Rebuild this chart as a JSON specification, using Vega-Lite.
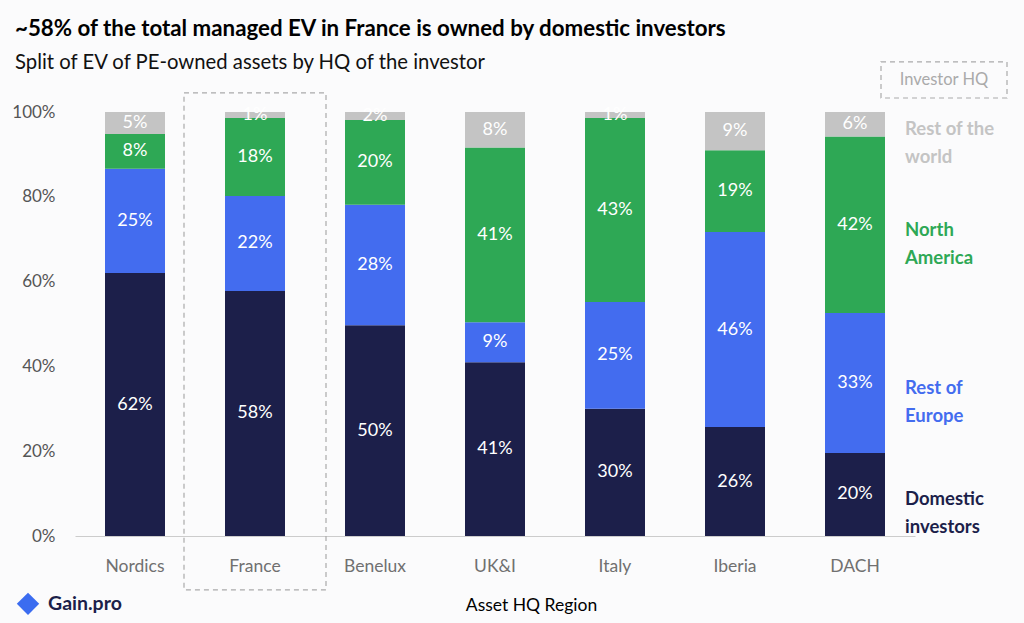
{
  "$schema": "https://vega.github.io/schema/vega-lite/v6.json",
  "autosize": "none",
  "width": 840,
  "height": 424,
  "padding": {"left": 75, "top": 112, "right": 109, "bottom": 87},
  "background": "#fbfbfc",
  "config": {
    "font": "Lato",
    "view": {"stroke": null},
    "axis": {"grid": false, "ticks": false}
  },
  "title": {
    "text": "~58% of the total managed EV in France is owned by domestic investors",
    "subtitle": "Split of EV of PE-owned assets by HQ of the investor",
    "anchor": "start",
    "frame": "group",
    "dx": -60,
    "offset": -12,
    "fontSize": 22.3,
    "fontWeight": "bold",
    "color": "#000000",
    "subtitleFontSize": 20.3,
    "subtitleColor": "#111111",
    "subtitlePadding": 13
  },
  "data": {
    "values": [
      {"region": "Nordics", "investor": "Domestic\ninvestors", "stack": 1, "share": 0.620},
      {"region": "Nordics", "investor": "Rest of\nEurope", "stack": 2, "share": 0.246},
      {"region": "Nordics", "investor": "North\nAmerica", "stack": 3, "share": 0.082},
      {"region": "Nordics", "investor": "Rest of the\nworld", "stack": 4, "share": 0.052},
      {"region": "France", "investor": "Domestic\ninvestors", "stack": 1, "share": 0.578},
      {"region": "France", "investor": "Rest of\nEurope", "stack": 2, "share": 0.224},
      {"region": "France", "investor": "North\nAmerica", "stack": 3, "share": 0.184},
      {"region": "France", "investor": "Rest of the\nworld", "stack": 4, "share": 0.014},
      {"region": "Benelux", "investor": "Domestic\ninvestors", "stack": 1, "share": 0.497},
      {"region": "Benelux", "investor": "Rest of\nEurope", "stack": 2, "share": 0.284},
      {"region": "Benelux", "investor": "North\nAmerica", "stack": 3, "share": 0.200},
      {"region": "Benelux", "investor": "Rest of the\nworld", "stack": 4, "share": 0.019},
      {"region": "UK&I", "investor": "Domestic\ninvestors", "stack": 1, "share": 0.410},
      {"region": "UK&I", "investor": "Rest of\nEurope", "stack": 2, "share": 0.094},
      {"region": "UK&I", "investor": "North\nAmerica", "stack": 3, "share": 0.412},
      {"region": "UK&I", "investor": "Rest of the\nworld", "stack": 4, "share": 0.084},
      {"region": "Italy", "investor": "Domestic\ninvestors", "stack": 1, "share": 0.300},
      {"region": "Italy", "investor": "Rest of\nEurope", "stack": 2, "share": 0.252},
      {"region": "Italy", "investor": "North\nAmerica", "stack": 3, "share": 0.434},
      {"region": "Italy", "investor": "Rest of the\nworld", "stack": 4, "share": 0.014},
      {"region": "Iberia", "investor": "Domestic\ninvestors", "stack": 1, "share": 0.257},
      {"region": "Iberia", "investor": "Rest of\nEurope", "stack": 2, "share": 0.460},
      {"region": "Iberia", "investor": "North\nAmerica", "stack": 3, "share": 0.193},
      {"region": "Iberia", "investor": "Rest of the\nworld", "stack": 4, "share": 0.090},
      {"region": "DACH", "investor": "Domestic\ninvestors", "stack": 1, "share": 0.196},
      {"region": "DACH", "investor": "Rest of\nEurope", "stack": 2, "share": 0.330},
      {"region": "DACH", "investor": "North\nAmerica", "stack": 3, "share": 0.416},
      {"region": "DACH", "investor": "Rest of the\nworld", "stack": 4, "share": 0.058}
    ]
  },
  "encoding": {
    "x": {
      "field": "region",
      "type": "nominal",
      "sort": null,
      "scale": {"paddingInner": 0.5, "paddingOuter": 0.25},
      "axis": {
        "title": "Asset HQ Region",
        "labelAngle": 0,
        "labelFontSize": 17.5,
        "labelColor": "#707070",
        "labelPadding": 21,
        "titleFontSize": 17.5,
        "titleFontWeight": "normal",
        "titleColor": "#000000",
        "titlePadding": 22,
        "titleX": 456,
        "domainColor": "#cccccc"
      }
    }
  },
  "layer": [
    {
      "mark": {"type": "bar"},
      "encoding": {
        "y": {
          "field": "share",
          "type": "quantitative",
          "stack": "zero",
          "scale": {"domain": [0, 1], "nice": false},
          "axis": {
            "title": null,
            "format": ".0%",
            "values": [0, 0.2, 0.4, 0.6, 0.8, 1],
            "domain": false,
            "labelFontSize": 17,
            "labelColor": "#555555",
            "labelPadding": 20
          }
        },
        "color": {
          "field": "investor",
          "type": "nominal",
          "scale": {
            "domain": ["Domestic\ninvestors", "Rest of\nEurope", "North\nAmerica", "Rest of the\nworld"],
            "range": ["#1c1f4a", "#436cef", "#2ea855", "#c4c4c4"]
          },
          "legend": null
        },
        "order": {"field": "stack", "type": "quantitative"}
      }
    },
    {
      "mark": {"type": "text", "color": "#ffffff", "fontSize": 18, "baseline": "middle"},
      "encoding": {
        "y": {"field": "share", "type": "quantitative", "stack": "zero", "bandPosition": 0.5},
        "text": {"field": "share", "type": "quantitative", "format": ".0%"},
        "order": {"field": "stack", "type": "quantitative"}
      }
    },
    {
      "transform": [{"filter": "datum.region === 'DACH'"}],
      "mark": {"type": "text", "align": "left", "baseline": "middle", "dx": 50, "dy": 5, "fontSize": 18.5, "fontWeight": "bold", "lineBreak": "\n", "lineHeight": 28},
      "encoding": {
        "y": {"field": "share", "type": "quantitative", "stack": "zero", "bandPosition": 0.5},
        "text": {"field": "investor", "type": "nominal"},
        "order": {"field": "stack", "type": "quantitative"},
        "color": {
          "field": "investor",
          "type": "nominal",
          "scale": {
            "domain": ["Domestic\ninvestors", "Rest of\nEurope", "North\nAmerica", "Rest of the\nworld"],
            "range": ["#000000", "#436cef", "#2ea855", "#c4c4c4"]
          },
          "legend": null
        }
      }
    },
    {
      "data": {"values": [{"region": "France"}]},
      "mark": {"type": "bar", "width": 142, "fill": null, "fillOpacity": 0, "stroke": "#aaaaaa", "strokeWidth": 1.2, "strokeDash": [5, 4], "clip": false},
      "encoding": {
        "y": {"datum": 1.045},
        "y2": {"datum": -0.127}
      }
    },
    {
      "data": {"values": [{"region": "DACH", "label": "Investor HQ"}]},
      "layer": [
        {
          "mark": {"type": "bar", "width": 126, "xOffset": 89, "fill": null, "fillOpacity": 0, "stroke": "#aaaaaa", "strokeWidth": 1.2, "strokeDash": [5, 4], "clip": false},
          "encoding": {"y": {"datum": 1.118}, "y2": {"datum": 1.033}}
        },
        {
          "mark": {"type": "text", "dx": 89, "fontSize": 16.5, "color": "#aaaaaa", "baseline": "middle"},
          "encoding": {"y": {"datum": 1.075}, "text": {"field": "label"}}
        }
      ]
    },
    {
      "data": {"values": [{"region": "Nordics", "brand": "Gain.pro"}]},
      "layer": [
        {
          "mark": {"type": "point", "shape": "diamond", "filled": true, "color": "#3b6cf0", "size": 500, "opacity": 1, "xOffset": -107},
          "encoding": {"y": {"datum": -0.16}}
        },
        {
          "mark": {"type": "text", "align": "left", "baseline": "middle", "dx": -87, "fontSize": 19.5, "fontWeight": "bold", "color": "#1c1f4a"},
          "encoding": {"y": {"datum": -0.16}, "text": {"field": "brand"}}
        }
      ]
    }
  ]
}
